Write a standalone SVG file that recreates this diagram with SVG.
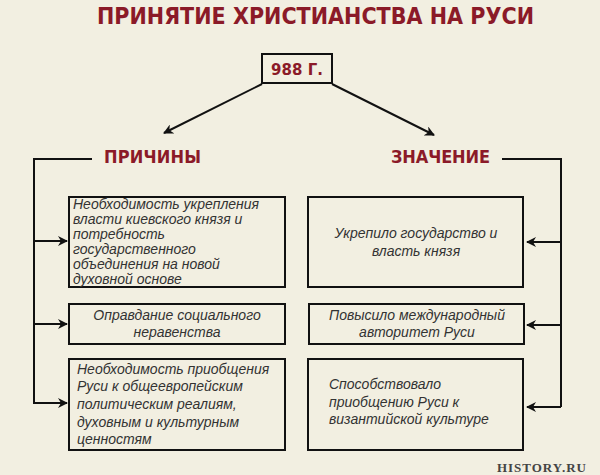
<svg xmlns="http://www.w3.org/2000/svg" width="600" height="475" viewBox="0 0 600 475">
<defs>
<marker id="ah" viewBox="0 0 10 10" refX="9" refY="5" markerWidth="10" markerHeight="10" markerUnits="userSpaceOnUse" orient="auto"><path d="M0,0 L10,5 L0,10 L3,5 Z" fill="#111"/></marker>
<style>
.box{fill:none;stroke:#111;stroke-width:2}
.ln{fill:none;stroke:#111;stroke-width:2}
.t{font-family:"Liberation Sans",Arial,sans-serif;font-style:italic;font-size:14px;fill:#333}
.h{font-family:"DejaVu Sans Condensed","Liberation Sans Narrow",sans-serif;font-weight:bold;fill:#8b1a28}
</style>
</defs>
<rect width="600" height="475" fill="#f2efe1"/>
<text class="h" x="97" y="24" font-size="23" textLength="437" lengthAdjust="spacing">ПРИНЯТИЕ  ХРИСТИАНСТВА  НА  РУСИ</text>
<g id="year"><rect class="box" x="262" y="54" width="70" height="29"/><text x="297" y="75" font-family="DejaVu Sans,sans-serif" font-weight="bold" font-size="15" fill="#8b1a28" text-anchor="middle">988 Г.</text></g>
<g id="causes-h"><text class="h" x="104" y="163" font-size="18" textLength="97" lengthAdjust="spacing">ПРИЧИНЫ</text></g>
<g id="meaning-h"><text class="h" x="391" y="163" font-size="18" textLength="99" lengthAdjust="spacing">ЗНАЧЕНИЕ</text></g>
<g id="connectors">
<line class="ln" x1="262" y1="84" x2="164" y2="133" marker-end="url(#ah)"/>
<line class="ln" x1="332" y1="84" x2="434" y2="135" marker-end="url(#ah)"/>
<polyline class="ln" points="92,159 34,159 34,403 67,403"/>
<line class="ln" x1="34" y1="241" x2="67" y2="241" marker-end="url(#ah)"/>
<line class="ln" x1="34" y1="324" x2="67" y2="324" marker-end="url(#ah)"/>
<line class="ln" x1="34" y1="403" x2="67" y2="403" marker-end="url(#ah)"/>
<polyline class="ln" points="502,159 561,159 561,407"/>
<line class="ln" x1="561" y1="242" x2="527" y2="242" marker-end="url(#ah)"/>
<line class="ln" x1="561" y1="325" x2="527" y2="325" marker-end="url(#ah)"/>
<line class="ln" x1="561" y1="407" x2="527" y2="407" marker-end="url(#ah)"/>
</g>
<g id="c1"><rect class="box" x="69" y="197" width="216" height="90"/><text class="t"><tspan x="73" y="209">Необходимость укрепления</tspan><tspan x="73" y="224">власти киевского князя и</tspan><tspan x="73" y="239">потребность</tspan><tspan x="73" y="254">государственного</tspan><tspan x="73" y="269">объединения на новой</tspan><tspan x="73" y="284">духовной основе</tspan></text></g>
<g id="c2"><rect class="box" x="69" y="304" width="216" height="40"/><text class="t" text-anchor="middle"><tspan x="177" y="320">Оправдание социального</tspan><tspan x="177" y="337">неравенства</tspan></text></g>
<g id="c3"><rect class="box" x="69" y="359" width="216" height="91"/><text class="t"><tspan x="77" y="374">Необходимость приобщения</tspan><tspan x="77" y="391">Руси к общеевропейским</tspan><tspan x="77" y="409">политическим реалиям,</tspan><tspan x="77" y="427">духовным и культурным</tspan><tspan x="77" y="444">ценностям</tspan></text></g>
<g id="m1"><rect class="box" x="308" y="197" width="215" height="90"/><text class="t" text-anchor="middle"><tspan x="416" y="238">Укрепило государство и</tspan><tspan x="416" y="256">власть князя</tspan></text></g>
<g id="m2"><rect class="box" x="309" y="304" width="215" height="40"/><text class="t" text-anchor="middle"><tspan x="417" y="320">Повысило международный</tspan><tspan x="417" y="337">авторитет Руси</tspan></text></g>
<g id="m3"><rect class="box" x="308" y="359" width="215" height="91"/><text class="t"><tspan x="329" y="389">Способствовало</tspan><tspan x="329" y="407">приобщению Руси к</tspan><tspan x="329" y="424">византийской культуре</tspan></text></g>
<text x="587" y="472" font-family="Liberation Serif,serif" font-weight="bold" font-size="13" fill="#444" text-anchor="end" letter-spacing="1">HISTORY.RU</text>
</svg>
